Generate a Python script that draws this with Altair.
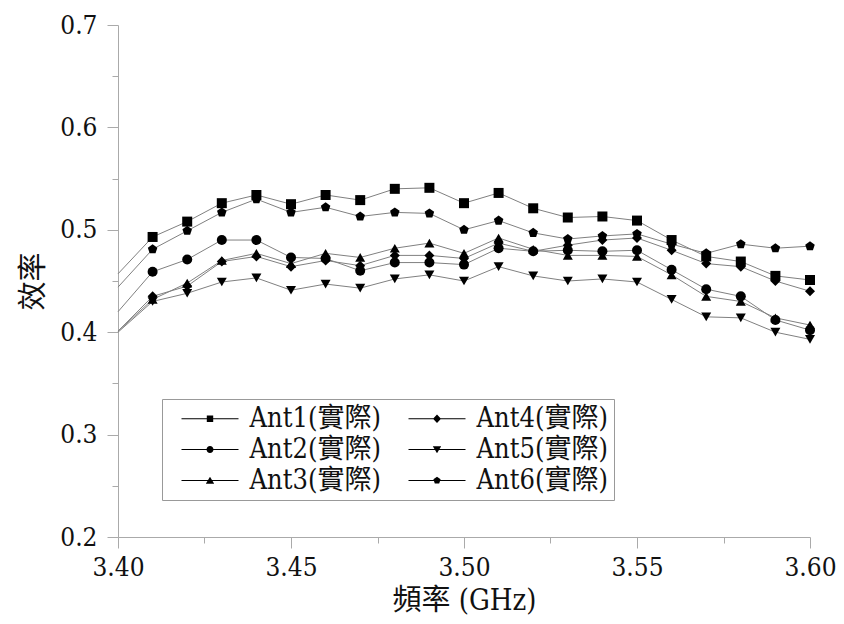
import altair as alt
import pandas as pd

freqs = [3.40, 3.41, 3.42, 3.43, 3.44, 3.45, 3.46, 3.47, 3.48, 3.49, 3.50,
         3.51, 3.52, 3.53, 3.54, 3.55, 3.56, 3.57, 3.58, 3.59, 3.60]

series_names = ["Ant1(實際)", "Ant2(實際)", "Ant3(實際)", "Ant4(實際)", "Ant5(實際)", "Ant6(實際)"]

ant1 = [0.457, 0.493, 0.508, 0.526, 0.534, 0.525, 0.534, 0.529, 0.540, 0.541, 0.526,
        0.536, 0.521, 0.512, 0.513, 0.509, 0.490, 0.474, 0.469, 0.455, 0.451]
ant2 = [0.420, 0.459, 0.471, 0.490, 0.490, 0.473, 0.472, 0.460, 0.468, 0.468, 0.466,
        0.482, 0.479, 0.480, 0.479, 0.480, 0.461, 0.442, 0.435, 0.412, 0.402]
ant3 = [0.401, 0.432, 0.448, 0.470, 0.477, 0.467, 0.477, 0.473, 0.482, 0.487, 0.477,
        0.492, 0.481, 0.475, 0.475, 0.474, 0.456, 0.435, 0.430, 0.414, 0.407]
ant4 = [0.401, 0.435, 0.445, 0.469, 0.474, 0.464, 0.470, 0.465, 0.475, 0.475, 0.472,
        0.487, 0.479, 0.485, 0.490, 0.492, 0.480, 0.467, 0.464, 0.450, 0.440]
ant5 = [0.400, 0.430, 0.438, 0.449, 0.453, 0.441, 0.447, 0.443, 0.452, 0.456, 0.450,
        0.464, 0.455, 0.450, 0.452, 0.449, 0.432, 0.415, 0.414, 0.400, 0.393]
ant6 = [0.444, 0.481, 0.499, 0.517, 0.530, 0.517, 0.522, 0.513, 0.517, 0.516, 0.500,
        0.509, 0.497, 0.491, 0.494, 0.496, 0.486, 0.477, 0.486, 0.482, 0.484]

x_ticks = [3.400, 3.425, 3.450, 3.475, 3.500, 3.525, 3.550, 3.575, 3.600]
y_ticks = [0.20, 0.25, 0.30, 0.35, 0.40, 0.45, 0.50, 0.55, 0.60, 0.65, 0.70]

all_series = [ant1, ant2, ant3, ant4, ant5, ant6]
rows = []
for name, vals in zip(series_names, all_series):
    for f, v in zip(freqs, vals):
        rows.append({"f": f, "eff": v, "ant": name})
df = pd.DataFrame(rows)

pentagon = "M0,-1L0.951,-0.309L0.588,0.809L-0.588,0.809L-0.951,-0.309Z"
chart_shapes = ["square", "circle", "triangle-up", "diamond", "triangle-down", pentagon]

# legend symbols: a thin line with a small marker in its middle (unit = 10 px)
bar = "M-2.85,-0.05H2.85V0.05H-2.85Z"
leg_sq = bar + "M-0.32,-0.32H0.32V0.32H-0.32Z"
leg_ci = bar + "M0.35,0A0.35,0.35,0,1,1,-0.35,0A0.35,0.35,0,1,1,0.35,0Z"
leg_tu = bar + "M0,-0.38L0.42,0.32H-0.42Z"
leg_di = bar + "M0,-0.42L0.4,0L0,0.42L-0.4,0Z"
leg_td = bar + "M0,0.38L-0.42,-0.32H0.42Z"
leg_pe = bar + "M0,-0.38L0.36,-0.12L0.22,0.31L-0.22,0.31L-0.36,-0.12Z"
legend_shapes = [leg_sq, leg_ci, leg_tu, leg_di, leg_td, leg_pe]

serif = "'DejaVu Serif Condensed', 'DejaVu Serif', 'Noto Sans CJK TC', serif"

x_enc = alt.X(
    "f:Q",
    scale=alt.Scale(domain=[3.40, 3.60], nice=False, zero=False),
    axis=alt.Axis(
        values=x_ticks,
        labelExpr="abs(round(datum.value*1000) % 50) < 1 ? format(datum.value, '.2f') : ''",
        tickSize={"condition": {"test": "abs(round(datum.value*1000) % 50) < 1", "value": 11}, "value": 6},
        title="頻率 (GHz)",
        grid=False,
        labelFlush=False,
        labelPadding=6,
        titlePadding=6,
    ),
)
y_enc = alt.Y(
    "eff:Q",
    scale=alt.Scale(domain=[0.2, 0.7], nice=False, zero=False),
    axis=alt.Axis(
        values=y_ticks,
        labelExpr="abs(round(datum.value*100) % 10) < 1 ? format(datum.value, '.1f') : ''",
        tickSize={"condition": {"test": "abs(round(datum.value*100) % 10) < 1", "value": 11}, "value": 6},
        title="效率",
        grid=False,
        labelPadding=10,
        titlePadding=11,
    ),
)

base = alt.Chart(df)

lines = base.mark_line(color="#808080", strokeWidth=1).encode(
    x=x_enc, y=y_enc, detail="ant:N"
)

points = base.transform_filter("datum.f > 3.401").mark_point(
    filled=True, color="black", size=100, opacity=1
).encode(
    x=x_enc,
    y=y_enc,
    shape=alt.Shape("ant:N", scale=alt.Scale(domain=series_names, range=chart_shapes), legend=None),
)

legend_layer = base.mark_point(filled=True, color="black", opacity=0, size=10).encode(
    x=x_enc,
    y=y_enc,
    shape=alt.Shape(
        "ant:N",
        scale=alt.Scale(domain=series_names, range=legend_shapes),
        legend=alt.Legend(
            title=None,
            orient="none",
            legendX=44,
            legendY=374,
            columns=2,
            columnPadding=14,
            rowPadding=3,
            labelFont=serif,
            labelFontSize=27,
            labelColor="#111",
            labelOffset=26,
            labelLimit=0,
            symbolSize=400,
            symbolOffset=28.5,
            symbolFillColor="black",
            symbolOpacity=1,
            symbolStrokeWidth=0,
            strokeColor="#999",
            padding=6,
        ),
    ),
)

chart = alt.layer(lines, points, legend_layer).resolve_scale(shape="independent").properties(
    width=692,
    height=512,
    autosize=alt.AutoSizeParams(type="none"),
    padding={"left": 110, "top": 17, "right": 26, "bottom": 86},
).configure_view(stroke=None).configure_axis(
    domainColor="#aaaaaa",
    tickColor="#aaaaaa",
    labelFont=serif,
    labelFontSize=26,
    labelColor="#111",
    titleFont=serif,
    titleFontSize=29,
    titleFontWeight="normal",
    titleColor="#111",
)

chart.save("out.html", embed_options={"renderer": "svg", "actions": False})
